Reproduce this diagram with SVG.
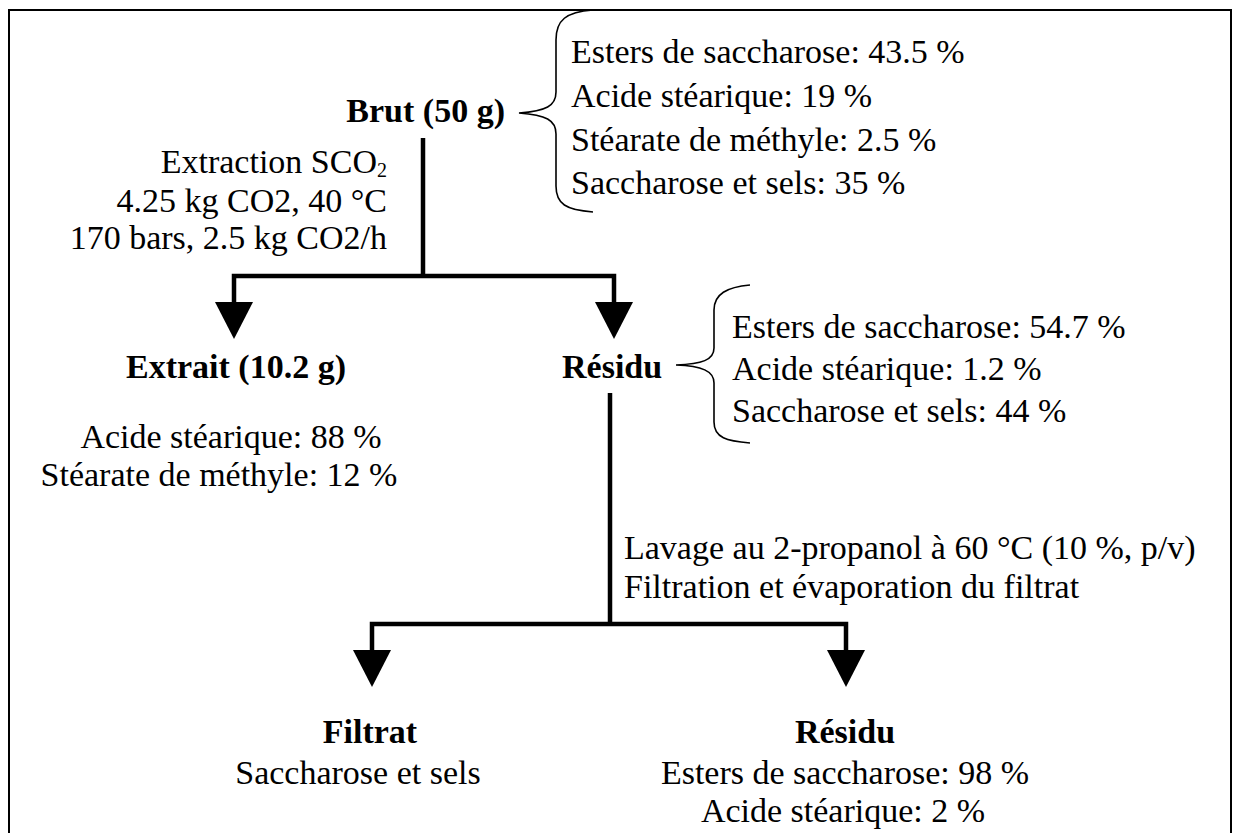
<svg xmlns="http://www.w3.org/2000/svg" xmlns:xlink="http://www.w3.org/1999/xlink" width="1235" height="833" viewBox="0 0 1235 833">
<style>
text{font-family:"Liberation Serif","Times New Roman",serif;font-size:34px;fill:#000}
.b{font-weight:bold}
.m{text-anchor:middle}
.e{text-anchor:end}
.ln{stroke:#000;stroke-width:4.5;fill:none}
.br{stroke:#000;stroke-width:1.6;fill:none}
.frame{stroke:#000;stroke-width:2;fill:none}
</style>
<defs>
<polygon id="ah" points="-19,0 19,0 0,37" fill="#000"/>
</defs>
<rect width="1235" height="833" fill="#fff"/>
<path class="frame" d="M9,833 V10 H1231 V833"/>

<g id="connectors">
<path class="ln" d="M423,138 V276 M234,302 V276 H614 V302"/>
<use xlink:href="#ah" x="234" y="302"/>
<use xlink:href="#ah" x="614" y="302"/>
<path class="ln" d="M610,393 V624 M372,650 V624 H846 V650"/>
<use xlink:href="#ah" x="372" y="650"/>
<use xlink:href="#ah" x="846" y="650"/>
</g>

<g id="brut">
<text class="b e" x="505" y="122">Brut (50 g)</text>
<path class="br" d="M593,10 C566,12 556,20 556,40 L556,92 C556,106 546,111 519,113 C546,115 556,120 556,134 L556,186 C556,204 566,210 593,212"/>
<text x="571" y="63">Esters de saccharose: 43.5 %</text>
<text x="571" y="107">Acide stéarique: 19 %</text>
<text x="571" y="151">Stéarate de méthyle: 2.5 %</text>
<text x="571" y="194">Saccharose et sels: 35 %</text>
</g>

<g id="extraction-label">
<text class="e" x="387" y="173">Extraction SCO<tspan font-size="20" dy="4">2</tspan></text>
<text class="e" x="387" y="212">4.25 kg CO2, 40 °C</text>
<text class="e" x="387" y="249">170 bars, 2.5 kg CO2/h</text>
</g>

<g id="extrait">
<text class="b m" x="236" y="378">Extrait (10.2 g)</text>
<text class="m" x="231" y="448">Acide stéarique: 88 %</text>
<text class="m" x="219" y="486">Stéarate de méthyle: 12 %</text>
</g>

<g id="residu1">
<text class="b" x="562" y="378">Résidu</text>
<path class="br" d="M750,285 C727,287 714,294 714,310 L714,348 C714,360 702,364 676,365 C702,366 714,371 714,383 L714,422 C714,438 727,441 750,443"/>
<text x="732" y="338">Esters de saccharose: 54.7 %</text>
<text x="732" y="380">Acide stéarique: 1.2 %</text>
<text x="732" y="422">Saccharose et sels: 44 %</text>
</g>

<g id="lavage-label">
<text x="624" y="559">Lavage au 2-propanol à 60 °C (10 %, p/v)</text>
<text x="624" y="598">Filtration et évaporation du filtrat</text>
</g>

<g id="filtrat">
<text class="b m" x="370" y="743">Filtrat</text>
<text class="m" x="358" y="784">Saccharose et sels</text>
</g>

<g id="residu2">
<text class="b m" x="845" y="743">Résidu</text>
<text class="m" x="845" y="784">Esters de saccharose: 98 %</text>
<text class="m" x="843" y="822">Acide stéarique: 2 %</text>
</g>
</svg>
